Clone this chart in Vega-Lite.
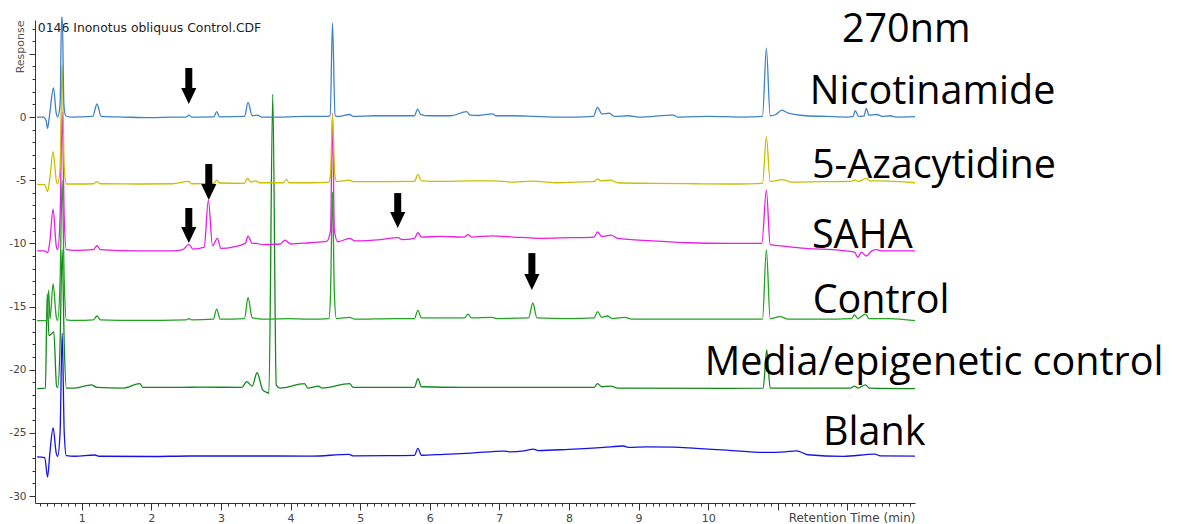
{
  "$schema": "https://vega.github.io/schema/vega-lite/v6.json",
  "autosize": {"type": "none"},
  "width": 880,
  "height": 483,
  "padding": {"left": 35, "top": 20, "right": 262, "bottom": 21},
  "background": "white",
  "config": {"view": {"stroke": null}, "axis": {"grid": false}},
  "datasets": {
    "traces": [
      {"s":"Blank","t":0.36,"r":-26.9},{"s":"Blank","t":0.47,"r":-26.95},{"s":"Blank","t":0.51,"r":-28.5},{"s":"Blank","t":0.545,"r":-26.5},{"s":"Blank","t":0.59,"r":-24.6},{"s":"Blank","t":0.635,"r":-26.6},{"s":"Blank","t":0.655,"r":-26.85},{"s":"Blank","t":0.69,"r":-25.0},{"s":"Blank","t":0.72,"r":-17.1},{"s":"Blank","t":0.75,"r":-25.0},{"s":"Blank","t":0.78,"r":-26.8},{"s":"Blank","t":0.9,"r":-26.85},{"s":"Blank","t":1.19,"r":-26.75},{"s":"Blank","t":1.25,"r":-26.85},{"s":"Blank","t":2.0,"r":-26.87},{"s":"Blank","t":2.55,"r":-26.83},{"s":"Blank","t":3.8,"r":-26.83},{"s":"Blank","t":4.3,"r":-26.84},{"s":"Blank","t":4.84,"r":-26.7},{"s":"Blank","t":4.9,"r":-26.82},{"s":"Blank","t":5.4,"r":-26.8},{"s":"Blank","t":5.78,"r":-26.78},{"s":"Blank","t":5.83,"r":-26.23},{"s":"Blank","t":5.88,"r":-26.77},{"s":"Blank","t":6.2,"r":-26.7},{"s":"Blank","t":6.6,"r":-26.6},{"s":"Blank","t":7.06,"r":-26.44},{"s":"Blank","t":7.15,"r":-26.5},{"s":"Blank","t":7.35,"r":-26.42},{"s":"Blank","t":7.49,"r":-26.28},{"s":"Blank","t":7.56,"r":-26.4},{"s":"Blank","t":8.0,"r":-26.3},{"s":"Blank","t":8.5,"r":-26.15},{"s":"Blank","t":8.78,"r":-26.04},{"s":"Blank","t":8.85,"r":-26.15},{"s":"Blank","t":9.12,"r":-26.1},{"s":"Blank","t":9.5,"r":-26.12},{"s":"Blank","t":9.83,"r":-26.23},{"s":"Blank","t":10.26,"r":-26.36},{"s":"Blank","t":10.84,"r":-26.55},{"s":"Blank","t":11.1,"r":-26.5},{"s":"Blank","t":11.27,"r":-26.42},{"s":"Blank","t":11.43,"r":-26.73},{"s":"Blank","t":11.94,"r":-26.86},{"s":"Blank","t":12.39,"r":-26.68},{"s":"Blank","t":12.47,"r":-26.82},{"s":"Blank","t":12.97,"r":-26.84},

      {"s":"Media","t":0.36,"r":-21.5},{"s":"Media","t":0.48,"r":-21.45},{"s":"Media","t":0.505,"r":-14.0},{"s":"Media","t":0.53,"r":-17.3},{"s":"Media","t":0.56,"r":-17.2},{"s":"Media","t":0.6,"r":-17.0},{"s":"Media","t":0.64,"r":-21.3},{"s":"Media","t":0.66,"r":-21.4},{"s":"Media","t":0.69,"r":-18.0},{"s":"Media","t":0.72,"r":-10.5},{"s":"Media","t":0.75,"r":-18.0},{"s":"Media","t":0.78,"r":-21.45},{"s":"Media","t":0.9,"r":-21.45},{"s":"Media","t":1.14,"r":-21.2},{"s":"Media","t":1.22,"r":-21.4},{"s":"Media","t":1.6,"r":-21.45},{"s":"Media","t":1.835,"r":-21.1},{"s":"Media","t":1.88,"r":-21.4},{"s":"Media","t":2.45,"r":-21.4},{"s":"Media","t":2.7,"r":-21.38},{"s":"Media","t":3.3,"r":-21.4},{"s":"Media","t":3.37,"r":-20.95},{"s":"Media","t":3.45,"r":-21.3},{"s":"Media","t":3.52,"r":-20.24},{"s":"Media","t":3.6,"r":-21.6},{"s":"Media","t":3.66,"r":-21.8},{"s":"Media","t":3.69,"r":-21.85},{"s":"Media","t":3.745,"r":1.8},{"s":"Media","t":3.795,"r":-21.2},{"s":"Media","t":3.85,"r":-21.45},{"s":"Media","t":4.2,"r":-21.1},{"s":"Media","t":4.25,"r":-21.45},{"s":"Media","t":4.4,"r":-21.3},{"s":"Media","t":4.45,"r":-21.45},{"s":"Media","t":4.85,"r":-21.1},{"s":"Media","t":4.9,"r":-21.4},{"s":"Media","t":5.78,"r":-21.4},{"s":"Media","t":5.83,"r":-20.7},{"s":"Media","t":5.88,"r":-21.35},{"s":"Media","t":6.5,"r":-21.4},{"s":"Media","t":8.36,"r":-21.4},{"s":"Media","t":8.41,"r":-21.1},{"s":"Media","t":8.47,"r":-21.35},{"s":"Media","t":8.6,"r":-21.3},{"s":"Media","t":8.7,"r":-21.45},{"s":"Media","t":10.3,"r":-21.47},{"s":"Media","t":10.79,"r":-21.45},{"s":"Media","t":10.84,"r":-18.44},{"s":"Media","t":10.89,"r":-21.45},{"s":"Media","t":12.05,"r":-21.45},{"s":"Media","t":12.1,"r":-21.3},{"s":"Media","t":12.15,"r":-21.45},{"s":"Media","t":12.26,"r":-21.2},{"s":"Media","t":12.31,"r":-21.45},{"s":"Media","t":12.97,"r":-21.5},

      {"s":"Control","t":0.36,"r":-16.12},{"s":"Control","t":0.5,"r":-16.1},{"s":"Control","t":0.527,"r":-13.7},{"s":"Control","t":0.545,"r":-16.0},{"s":"Control","t":0.59,"r":-13.2},{"s":"Control","t":0.635,"r":-15.8},{"s":"Control","t":0.655,"r":-16.1},{"s":"Control","t":0.69,"r":-13.0},{"s":"Control","t":0.72,"r":-5.0},{"s":"Control","t":0.75,"r":-13.0},{"s":"Control","t":0.78,"r":-16.05},{"s":"Control","t":0.9,"r":-16.1},{"s":"Control","t":1.17,"r":-16.05},{"s":"Control","t":1.22,"r":-15.75},{"s":"Control","t":1.27,"r":-16.05},{"s":"Control","t":1.8,"r":-16.1},{"s":"Control","t":2.5,"r":-16.05},{"s":"Control","t":2.54,"r":-15.95},{"s":"Control","t":2.58,"r":-16.05},{"s":"Control","t":2.89,"r":-16.0},{"s":"Control","t":2.94,"r":-15.2},{"s":"Control","t":2.99,"r":-16.0},{"s":"Control","t":3.34,"r":-15.95},{"s":"Control","t":3.39,"r":-14.27},{"s":"Control","t":3.45,"r":-15.9},{"s":"Control","t":3.52,"r":-15.95},{"s":"Control","t":3.6,"r":-16.0},{"s":"Control","t":3.97,"r":-15.95},{"s":"Control","t":4.3,"r":-16.0},{"s":"Control","t":4.55,"r":-15.95},{"s":"Control","t":4.575,"r":-14.0},{"s":"Control","t":4.603,"r":-5.94},{"s":"Control","t":4.63,"r":-14.0},{"s":"Control","t":4.66,"r":-15.95},{"s":"Control","t":4.85,"r":-15.85},{"s":"Control","t":4.92,"r":-16.0},{"s":"Control","t":5.5,"r":-15.95},{"s":"Control","t":5.78,"r":-15.95},{"s":"Control","t":5.83,"r":-15.3},{"s":"Control","t":5.88,"r":-15.9},{"s":"Control","t":6.2,"r":-15.9},{"s":"Control","t":6.5,"r":-15.9},{"s":"Control","t":6.55,"r":-15.6},{"s":"Control","t":6.6,"r":-15.9},{"s":"Control","t":6.9,"r":-15.85},{"s":"Control","t":6.96,"r":-15.95},{"s":"Control","t":7.42,"r":-15.9},{"s":"Control","t":7.48,"r":-14.72},{"s":"Control","t":7.54,"r":-15.9},{"s":"Control","t":8.0,"r":-15.95},{"s":"Control","t":8.36,"r":-15.9},{"s":"Control","t":8.41,"r":-15.4},{"s":"Control","t":8.47,"r":-15.85},{"s":"Control","t":8.55,"r":-15.75},{"s":"Control","t":8.62,"r":-15.95},{"s":"Control","t":8.8,"r":-15.85},{"s":"Control","t":8.9,"r":-16.0},{"s":"Control","t":9.5,"r":-16.0},{"s":"Control","t":10.3,"r":-16.0},{"s":"Control","t":10.78,"r":-16.0},{"s":"Control","t":10.835,"r":-10.5},{"s":"Control","t":10.89,"r":-15.95},{"s":"Control","t":11.03,"r":-15.8},{"s":"Control","t":11.15,"r":-16.0},{"s":"Control","t":11.6,"r":-16.0},{"s":"Control","t":12.06,"r":-15.95},{"s":"Control","t":12.1,"r":-15.67},{"s":"Control","t":12.15,"r":-15.95},{"s":"Control","t":12.26,"r":-15.6},{"s":"Control","t":12.31,"r":-15.95},{"s":"Control","t":12.6,"r":-15.95},{"s":"Control","t":12.97,"r":-16.12},

      {"s":"SAHA","t":0.36,"r":-10.6},{"s":"SAHA","t":0.47,"r":-10.6},{"s":"SAHA","t":0.51,"r":-10.74},{"s":"SAHA","t":0.54,"r":-10.0},{"s":"SAHA","t":0.59,"r":-7.3},{"s":"SAHA","t":0.635,"r":-10.2},{"s":"SAHA","t":0.655,"r":-10.5},{"s":"SAHA","t":0.69,"r":-8.0},{"s":"SAHA","t":0.72,"r":0.4},{"s":"SAHA","t":0.75,"r":-8.0},{"s":"SAHA","t":0.78,"r":-10.5},{"s":"SAHA","t":0.9,"r":-10.55},{"s":"SAHA","t":1.17,"r":-10.5},{"s":"SAHA","t":1.22,"r":-10.19},{"s":"SAHA","t":1.27,"r":-10.5},{"s":"SAHA","t":1.8,"r":-10.6},{"s":"SAHA","t":2.3,"r":-10.6},{"s":"SAHA","t":2.45,"r":-10.5},{"s":"SAHA","t":2.54,"r":-10.08},{"s":"SAHA","t":2.6,"r":-10.45},{"s":"SAHA","t":2.76,"r":-10.3},{"s":"SAHA","t":2.82,"r":-6.57},{"s":"SAHA","t":2.88,"r":-10.2},{"s":"SAHA","t":2.95,"r":-9.6},{"s":"SAHA","t":3.0,"r":-10.4},{"s":"SAHA","t":3.2,"r":-10.25},{"s":"SAHA","t":3.35,"r":-10.0},{"s":"SAHA","t":3.39,"r":-9.42},{"s":"SAHA","t":3.45,"r":-10.0},{"s":"SAHA","t":3.51,"r":-10.0},{"s":"SAHA","t":3.6,"r":-10.1},{"s":"SAHA","t":3.85,"r":-10.05},{"s":"SAHA","t":3.92,"r":-9.74},{"s":"SAHA","t":4.0,"r":-10.05},{"s":"SAHA","t":4.28,"r":-9.95},{"s":"SAHA","t":4.52,"r":-9.85},{"s":"SAHA","t":4.575,"r":-9.0},{"s":"SAHA","t":4.603,"r":0.3},{"s":"SAHA","t":4.63,"r":-9.0},{"s":"SAHA","t":4.68,"r":-9.87},{"s":"SAHA","t":4.85,"r":-9.6},{"s":"SAHA","t":4.92,"r":-9.8},{"s":"SAHA","t":5.3,"r":-9.7},{"s":"SAHA","t":5.55,"r":-9.55},{"s":"SAHA","t":5.6,"r":-9.7},{"s":"SAHA","t":5.78,"r":-9.6},{"s":"SAHA","t":5.83,"r":-9.16},{"s":"SAHA","t":5.88,"r":-9.5},{"s":"SAHA","t":6.14,"r":-9.45},{"s":"SAHA","t":6.5,"r":-9.5},{"s":"SAHA","t":6.55,"r":-9.3},{"s":"SAHA","t":6.6,"r":-9.5},{"s":"SAHA","t":6.9,"r":-9.4},{"s":"SAHA","t":7.2,"r":-9.5},{"s":"SAHA","t":7.6,"r":-9.6},{"s":"SAHA","t":8.0,"r":-9.55},{"s":"SAHA","t":8.36,"r":-9.5},{"s":"SAHA","t":8.41,"r":-9.1},{"s":"SAHA","t":8.47,"r":-9.45},{"s":"SAHA","t":8.6,"r":-9.35},{"s":"SAHA","t":8.7,"r":-9.6},{"s":"SAHA","t":9.2,"r":-9.8},{"s":"SAHA","t":9.7,"r":-9.95},{"s":"SAHA","t":10.3,"r":-10.0},{"s":"SAHA","t":10.77,"r":-10.0},{"s":"SAHA","t":10.835,"r":-5.78},{"s":"SAHA","t":10.89,"r":-10.1},{"s":"SAHA","t":11.05,"r":-10.2},{"s":"SAHA","t":11.4,"r":-10.4},{"s":"SAHA","t":11.9,"r":-10.55},{"s":"SAHA","t":12.1,"r":-10.7},{"s":"SAHA","t":12.15,"r":-11.1},{"s":"SAHA","t":12.2,"r":-10.7},{"s":"SAHA","t":12.27,"r":-11.0},{"s":"SAHA","t":12.35,"r":-10.6},{"s":"SAHA","t":12.42,"r":-10.5},{"s":"SAHA","t":12.5,"r":-10.6},{"s":"SAHA","t":12.97,"r":-10.6},

      {"s":"5-Azacytidine","t":0.36,"r":-5.33},{"s":"5-Azacytidine","t":0.47,"r":-5.35},{"s":"5-Azacytidine","t":0.51,"r":-5.9},{"s":"5-Azacytidine","t":0.54,"r":-5.0},{"s":"5-Azacytidine","t":0.59,"r":-2.74},{"s":"5-Azacytidine","t":0.635,"r":-5.0},{"s":"5-Azacytidine","t":0.655,"r":-5.3},{"s":"5-Azacytidine","t":0.69,"r":-4.0},{"s":"5-Azacytidine","t":0.72,"r":4.1},{"s":"5-Azacytidine","t":0.75,"r":-4.0},{"s":"5-Azacytidine","t":0.78,"r":-5.3},{"s":"5-Azacytidine","t":0.9,"r":-5.3},{"s":"5-Azacytidine","t":1.17,"r":-5.28},{"s":"5-Azacytidine","t":1.22,"r":-5.12},{"s":"5-Azacytidine","t":1.27,"r":-5.28},{"s":"5-Azacytidine","t":1.8,"r":-5.3},{"s":"5-Azacytidine","t":2.3,"r":-5.28},{"s":"5-Azacytidine","t":2.54,"r":-5.1},{"s":"5-Azacytidine","t":2.58,"r":-5.28},{"s":"5-Azacytidine","t":2.9,"r":-5.25},{"s":"5-Azacytidine","t":2.94,"r":-4.99},{"s":"5-Azacytidine","t":2.98,"r":-5.22},{"s":"5-Azacytidine","t":3.34,"r":-5.25},{"s":"5-Azacytidine","t":3.38,"r":-4.85},{"s":"5-Azacytidine","t":3.43,"r":-5.15},{"s":"5-Azacytidine","t":3.5,"r":-5.05},{"s":"5-Azacytidine","t":3.55,"r":-5.2},{"s":"5-Azacytidine","t":3.9,"r":-5.2},{"s":"5-Azacytidine","t":3.94,"r":-4.93},{"s":"5-Azacytidine","t":3.98,"r":-5.2},{"s":"5-Azacytidine","t":4.3,"r":-5.2},{"s":"5-Azacytidine","t":4.55,"r":-5.15},{"s":"5-Azacytidine","t":4.575,"r":-4.5},{"s":"5-Azacytidine","t":4.603,"r":0.2},{"s":"5-Azacytidine","t":4.635,"r":-4.5},{"s":"5-Azacytidine","t":4.66,"r":-5.1},{"s":"5-Azacytidine","t":4.85,"r":-4.99},{"s":"5-Azacytidine","t":4.9,"r":-5.12},{"s":"5-Azacytidine","t":5.3,"r":-5.12},{"s":"5-Azacytidine","t":5.78,"r":-5.1},{"s":"5-Azacytidine","t":5.83,"r":-4.54},{"s":"5-Azacytidine","t":5.88,"r":-5.05},{"s":"5-Azacytidine","t":6.2,"r":-5.1},{"s":"5-Azacytidine","t":6.55,"r":-5.05},{"s":"5-Azacytidine","t":6.9,"r":-5.05},{"s":"5-Azacytidine","t":7.2,"r":-5.15},{"s":"5-Azacytidine","t":7.48,"r":-5.08},{"s":"5-Azacytidine","t":7.8,"r":-5.2},{"s":"5-Azacytidine","t":8.1,"r":-5.15},{"s":"5-Azacytidine","t":8.36,"r":-5.1},{"s":"5-Azacytidine","t":8.41,"r":-4.9},{"s":"5-Azacytidine","t":8.46,"r":-5.05},{"s":"5-Azacytidine","t":8.6,"r":-5.0},{"s":"5-Azacytidine","t":8.7,"r":-5.2},{"s":"5-Azacytidine","t":9.2,"r":-5.25},{"s":"5-Azacytidine","t":9.8,"r":-5.28},{"s":"5-Azacytidine","t":10.4,"r":-5.3},{"s":"5-Azacytidine","t":10.78,"r":-5.25},{"s":"5-Azacytidine","t":10.835,"r":-1.58},{"s":"5-Azacytidine","t":10.89,"r":-5.1},{"s":"5-Azacytidine","t":11.06,"r":-4.95},{"s":"5-Azacytidine","t":11.2,"r":-5.15},{"s":"5-Azacytidine","t":11.6,"r":-5.12},{"s":"5-Azacytidine","t":12.05,"r":-5.1},{"s":"5-Azacytidine","t":12.11,"r":-4.99},{"s":"5-Azacytidine","t":12.16,"r":-5.1},{"s":"5-Azacytidine","t":12.27,"r":-4.85},{"s":"5-Azacytidine","t":12.32,"r":-5.05},{"s":"5-Azacytidine","t":12.45,"r":-5.05},{"s":"5-Azacytidine","t":12.97,"r":-5.2},

      {"s":"Nicotinamide","t":0.36,"r":0.0},{"s":"Nicotinamide","t":0.45,"r":0.0},{"s":"Nicotinamide","t":0.49,"r":-0.3},{"s":"Nicotinamide","t":0.51,"r":-0.9},{"s":"Nicotinamide","t":0.54,"r":0.2},{"s":"Nicotinamide","t":0.595,"r":2.3},{"s":"Nicotinamide","t":0.635,"r":0.3},{"s":"Nicotinamide","t":0.655,"r":0.0},{"s":"Nicotinamide","t":0.69,"r":1.0},{"s":"Nicotinamide","t":0.712,"r":7.9},{"s":"Nicotinamide","t":0.722,"r":7.9},{"s":"Nicotinamide","t":0.745,"r":1.0},{"s":"Nicotinamide","t":0.77,"r":0.1},{"s":"Nicotinamide","t":0.85,"r":0.0},{"s":"Nicotinamide","t":1.16,"r":0.05},{"s":"Nicotinamide","t":1.22,"r":1.03},{"s":"Nicotinamide","t":1.28,"r":0.05},{"s":"Nicotinamide","t":1.6,"r":0.0},{"s":"Nicotinamide","t":2.0,"r":-0.05},{"s":"Nicotinamide","t":2.3,"r":0.0},{"s":"Nicotinamide","t":2.5,"r":0.0},{"s":"Nicotinamide","t":2.54,"r":0.15},{"s":"Nicotinamide","t":2.58,"r":0.0},{"s":"Nicotinamide","t":2.9,"r":0.02},{"s":"Nicotinamide","t":2.94,"r":0.42},{"s":"Nicotinamide","t":2.98,"r":0.02},{"s":"Nicotinamide","t":3.34,"r":0.05},{"s":"Nicotinamide","t":3.39,"r":1.16},{"s":"Nicotinamide","t":3.45,"r":0.1},{"s":"Nicotinamide","t":3.53,"r":0.15},{"s":"Nicotinamide","t":3.58,"r":0.0},{"s":"Nicotinamide","t":3.9,"r":0.0},{"s":"Nicotinamide","t":4.2,"r":0.05},{"s":"Nicotinamide","t":4.5,"r":0.05},{"s":"Nicotinamide","t":4.57,"r":0.1},{"s":"Nicotinamide","t":4.603,"r":7.45},{"s":"Nicotinamide","t":4.64,"r":0.1},{"s":"Nicotinamide","t":4.7,"r":0.05},{"s":"Nicotinamide","t":4.85,"r":0.2},{"s":"Nicotinamide","t":4.9,"r":0.05},{"s":"Nicotinamide","t":5.2,"r":0.1},{"s":"Nicotinamide","t":5.5,"r":0.1},{"s":"Nicotinamide","t":5.78,"r":0.1},{"s":"Nicotinamide","t":5.825,"r":0.63},{"s":"Nicotinamide","t":5.87,"r":0.2},{"s":"Nicotinamide","t":6.0,"r":0.1},{"s":"Nicotinamide","t":6.3,"r":0.1},{"s":"Nicotinamide","t":6.53,"r":0.42},{"s":"Nicotinamide","t":6.58,"r":0.15},{"s":"Nicotinamide","t":6.7,"r":0.12},{"s":"Nicotinamide","t":6.9,"r":0.25},{"s":"Nicotinamide","t":6.95,"r":0.1},{"s":"Nicotinamide","t":7.2,"r":0.1},{"s":"Nicotinamide","t":7.5,"r":0.05},{"s":"Nicotinamide","t":7.8,"r":0.0},{"s":"Nicotinamide","t":8.1,"r":0.0},{"s":"Nicotinamide","t":8.35,"r":0.05},{"s":"Nicotinamide","t":8.41,"r":0.77},{"s":"Nicotinamide","t":8.47,"r":0.25},{"s":"Nicotinamide","t":8.58,"r":0.3},{"s":"Nicotinamide","t":8.65,"r":0.05},{"s":"Nicotinamide","t":8.85,"r":0.1},{"s":"Nicotinamide","t":9.0,"r":0.0},{"s":"Nicotinamide","t":9.5,"r":0.15},{"s":"Nicotinamide","t":9.56,"r":0.0},{"s":"Nicotinamide","t":10.0,"r":0.05},{"s":"Nicotinamide","t":10.5,"r":0.0},{"s":"Nicotinamide","t":10.78,"r":0.05},{"s":"Nicotinamide","t":10.835,"r":5.45},{"s":"Nicotinamide","t":10.89,"r":0.1},{"s":"Nicotinamide","t":10.97,"r":0.2},{"s":"Nicotinamide","t":11.06,"r":0.55},{"s":"Nicotinamide","t":11.15,"r":0.3},{"s":"Nicotinamide","t":11.4,"r":0.1},{"s":"Nicotinamide","t":11.7,"r":0.05},{"s":"Nicotinamide","t":12.0,"r":0.0},{"s":"Nicotinamide","t":12.08,"r":0.05},{"s":"Nicotinamide","t":12.11,"r":0.5},{"s":"Nicotinamide","t":12.16,"r":0.05},{"s":"Nicotinamide","t":12.24,"r":0.1},{"s":"Nicotinamide","t":12.27,"r":0.69},{"s":"Nicotinamide","t":12.31,"r":0.15},{"s":"Nicotinamide","t":12.42,"r":0.2},{"s":"Nicotinamide","t":12.5,"r":0.05},{"s":"Nicotinamide","t":12.61,"r":0.1},{"s":"Nicotinamide","t":12.7,"r":0.0},{"s":"Nicotinamide","t":12.97,"r":0.03}
    ],
    "labels": [
      {"label":"270nm","t":11.92,"r":5.96},
      {"label":"Nicotinamide","t":11.46,"r":1.03},
      {"label":"5-Azacytidine","t":11.49,"r":-4.83},
      {"label":"SAHA","t":11.49,"r":-10.37},
      {"label":"Control","t":11.5,"r":-15.54},
      {"label":"Media/epigenetic control","t":9.95,"r":-20.42},
      {"label":"Blank","t":11.65,"r":-25.96}
    ],
    "note": [
      {"label":"0146 Inonotus obliquus Control.CDF","t":0.37,"r":7.05}
    ],
    "arrows": [
      {"t":2.539,"r":1.03,"top":3.88},
      {"t":2.826,"r":-6.57,"top":-3.72},
      {"t":2.539,"r":-9.97,"top":-7.2},
      {"t":5.54,"r":-8.79,"top":-6.02},
      {"t":7.467,"r":-13.69,"top":-10.77}
    ]
  },
  "encoding": {
    "x": {
      "field": "t",
      "type": "quantitative",
      "scale": {"domain": [0.33, 12.97], "nice": false, "zero": false},
      "axis": {
        "title": "Retention Time (min)",
        "titleFont": "DejaVu Sans",
        "titleFontSize": 12,
        "titleFontWeight": "normal",
        "titleColor": "#444444",
        "titleAnchor": "end",
        "titleAlign": "right",
        "titleBaseline": "alphabetic",
        "titleX": 880,
        "titleY": 18,
        "values": [0.4,0.5,0.6,0.7,0.8,0.9,1,1.1,1.2,1.3,1.4,1.5,1.6,1.7,1.8,1.9,2,2.1,2.2,2.3,2.4,2.5,2.6,2.7,2.8,2.9,3,3.1,3.2,3.3,3.4,3.5,3.6,3.7,3.8,3.9,4,4.1,4.2,4.3,4.4,4.5,4.6,4.7,4.8,4.9,5,5.1,5.2,5.3,5.4,5.5,5.6,5.7,5.8,5.9,6,6.1,6.2,6.3,6.4,6.5,6.6,6.7,6.8,6.9,7,7.1,7.2,7.3,7.4,7.5,7.6,7.7,7.8,7.9,8,8.1,8.2,8.3,8.4,8.5,8.6,8.7,8.8,8.9,9,9.1,9.2,9.3,9.4,9.5,9.6,9.7,9.8,9.9,10,10.1,10.2,10.3,10.4,10.5,10.6,10.7,10.8,10.9,11,11.1,11.2,11.3,11.4,11.5,11.6,11.7,11.8,11.9,12,12.1,12.2,12.3,12.4,12.5,12.6,12.7,12.8,12.9],
        "labelExpr": "abs(datum.value - round(datum.value)) < 0.01 && datum.value <= 10.5 ? toString(round(datum.value)) : ''",
        "labelOverlap": false,
        "labelFlush": false,
        "labelFont": "DejaVu Sans",
        "labelFontSize": 11,
        "labelColor": "#444444",
        "labelPadding": 2,
        "tickSize": {"condition": {"test": "abs(datum.value - round(datum.value)) < 0.01", "value": 7}, "value": 3},
        "tickColor": "#333333",
        "domainColor": "#333333",
        "grid": false
      }
    },
    "y": {
      "field": "r",
      "type": "quantitative",
      "scale": {"domain": [-30.55, 7.68], "nice": false, "zero": false},
      "axis": {
        "title": "Response",
        "titleFont": "DejaVu Sans",
        "titleFontSize": 11,
        "titleFontWeight": "normal",
        "titleColor": "#555555",
        "titleAngle": -90,
        "titleAlign": "right",
        "titleBaseline": "middle",
        "titleX": -15,
        "titleY": 0,
        "values": [-30,-29,-28,-27,-26,-25,-24,-23,-22,-21,-20,-19,-18,-17,-16,-15,-14,-13,-12,-11,-10,-9,-8,-7,-6,-5,-4,-3,-2,-1,0,1,2,3,4,5,6,7],
        "labelExpr": "abs(datum.value % 5) < 0.01 && datum.value <= 0 ? toString(datum.value) : ''",
        "labelOverlap": false,
        "labelFlush": false,
        "labelFont": "DejaVu Sans",
        "labelFontSize": 10.5,
        "labelColor": "#444444",
        "labelPadding": 3,
        "tickSize": {"condition": {"test": "abs(datum.value % 5) < 0.01", "value": 6}, "value": 3},
        "tickColor": "#333333",
        "domainColor": "#333333",
        "grid": false
      }
    }
  },
  "layer": [
    {
      "data": {"name": "note"},
      "mark": {"type": "text", "align": "left", "baseline": "middle", "font": "DejaVu Sans", "fontSize": 12.4, "color": "#222222"},
      "encoding": {"text": {"field": "label"}}
    },
    {
      "data": {"name": "traces"},
      "mark": {"type": "line", "strokeWidth": 1.3, "interpolate": "monotone"},
      "encoding": {
        "color": {
          "field": "s",
          "type": "nominal",
          "scale": {
            "domain": ["Blank", "Media", "Control", "SAHA", "5-Azacytidine", "Nicotinamide"],
            "range": ["#1414e6", "#13881a", "#22a322", "#e61ee6", "#c8c000", "#3f82c8"]
          },
          "legend": null
        },
        "order": {"field": "t", "type": "quantitative"}
      }
    },
    {
      "data": {"name": "arrows"},
      "mark": {"type": "rule", "color": "black", "strokeWidth": 7, "yOffset": -12},
      "encoding": {"y2": {"field": "top"}}
    },
    {
      "data": {"name": "arrows"},
      "mark": {"type": "point", "shape": "M-0.95,-1L0.95,-1L0,1Z", "size": 256, "filled": true, "color": "black", "opacity": 1, "yOffset": -8}
    },
    {
      "data": {"name": "labels"},
      "mark": {"type": "text", "align": "left", "baseline": "alphabetic", "font": "Open Sans", "fontSize": 39.5, "color": "black"},
      "encoding": {"text": {"field": "label"}}
    }
  ]
}
